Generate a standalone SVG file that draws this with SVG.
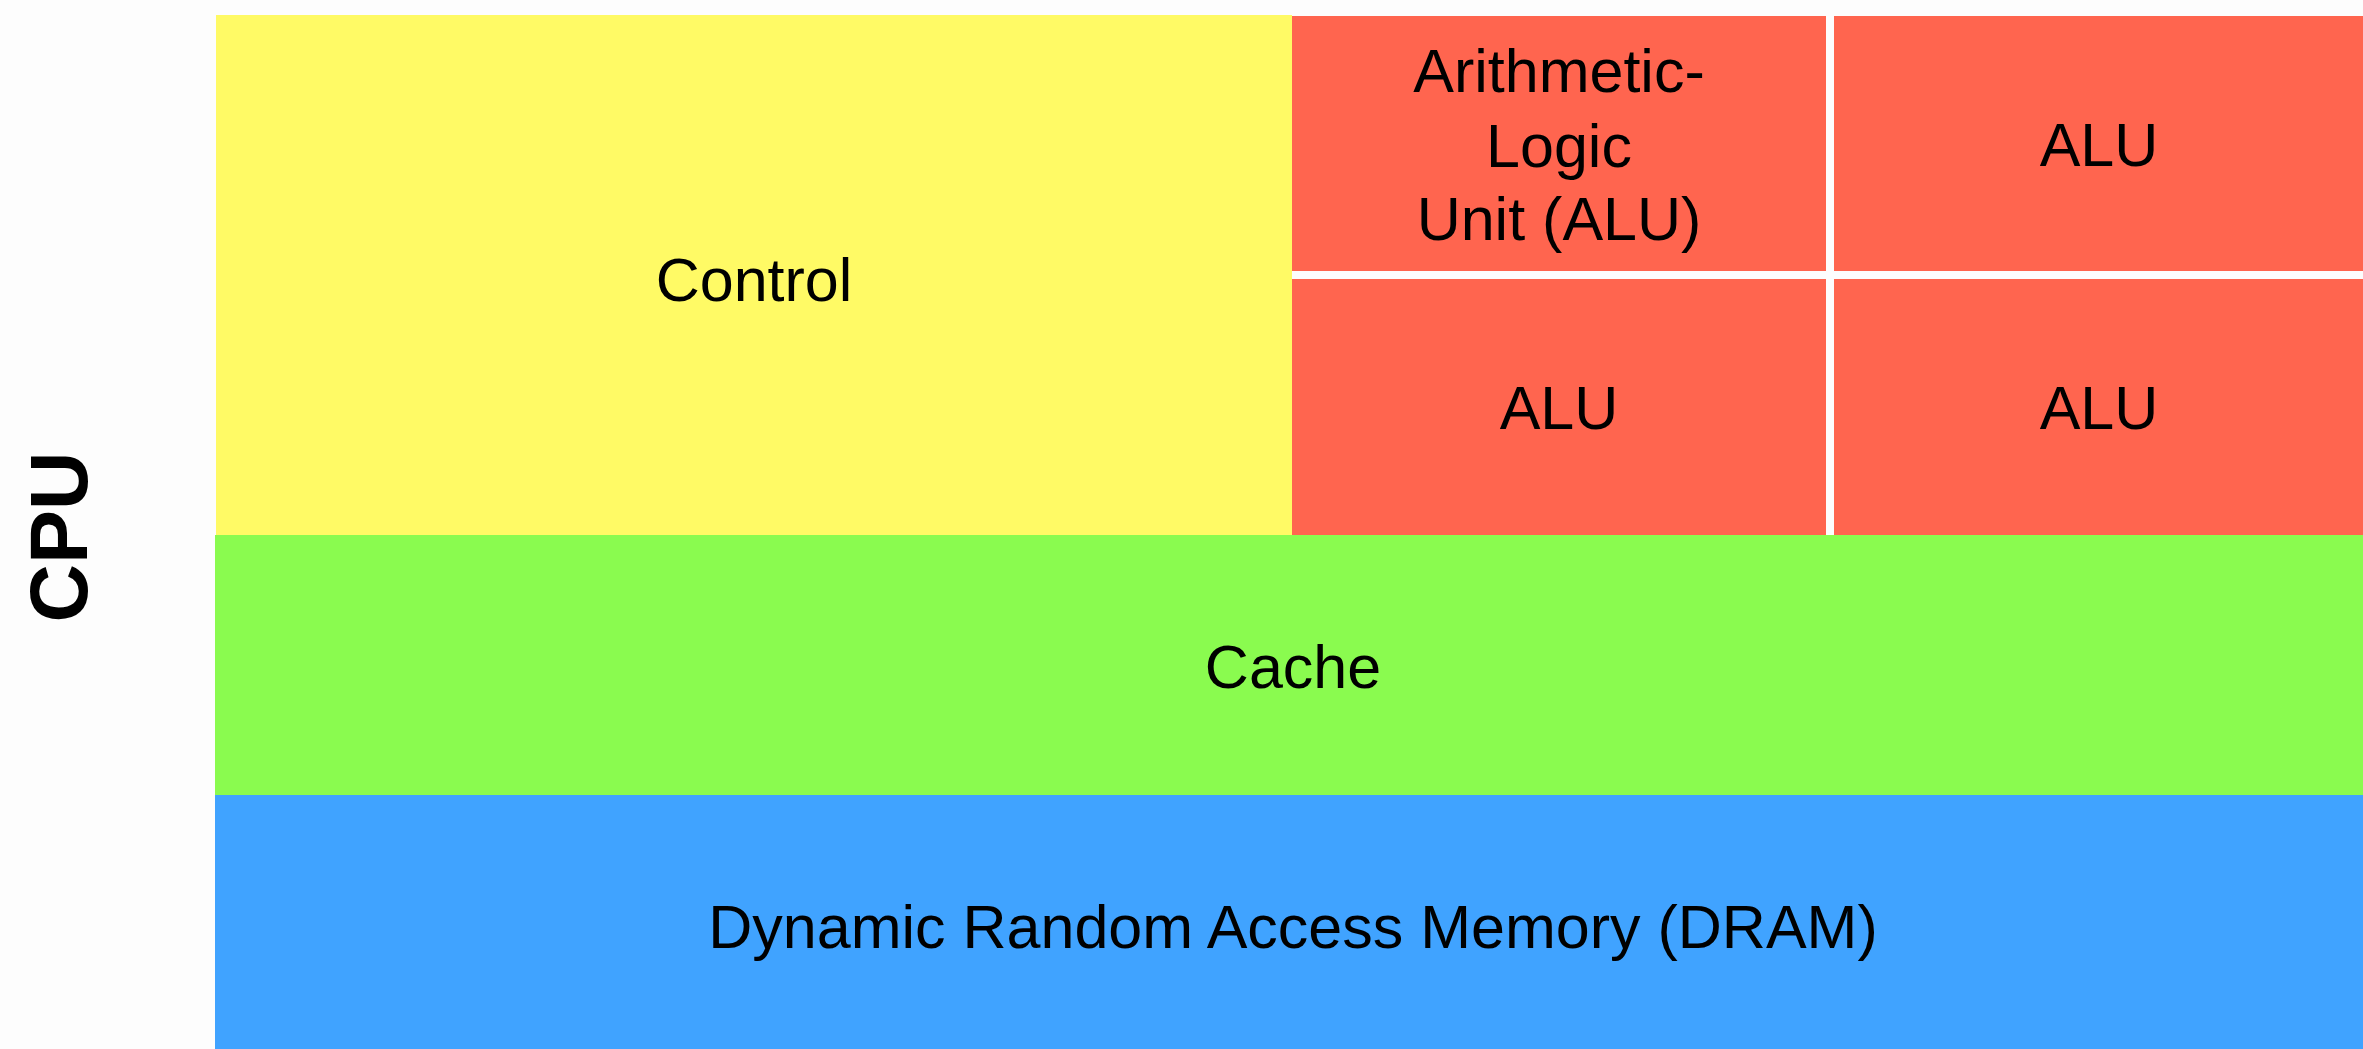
<svg xmlns="http://www.w3.org/2000/svg" width="2363" height="1049" viewBox="0 0 2363 1049">
<style>
.lbl{font-family:"Liberation Sans",Arial,Helvetica,sans-serif;font-size:61px;fill:#000;text-anchor:middle}
.cpu{font-family:"Liberation Sans",Arial,Helvetica,sans-serif;font-size:81px;font-weight:bold;fill:#000;text-anchor:middle}
.alu{fill:#FF654F}
</style>
<rect x="0" y="0" width="2363" height="1049" fill="#FDFDFD"/>
<g id="cpu-label">
<text class="cpu" transform="translate(87,537) rotate(-90)">CPU</text>
</g>
<g id="control">
<rect x="216" y="15" width="1076" height="520" fill="#FFFA65"/>
<text class="lbl" x="754" y="301">Control</text>
</g>
<g id="alu-main">
<rect class="alu" x="1292" y="16" width="534" height="255"/>
<text class="lbl" x="1559" y="92">Arithmetic-</text>
<text class="lbl" x="1559" y="167">Logic</text>
<text class="lbl" x="1559" y="240">Unit (ALU)</text>
</g>
<g id="alu-2">
<rect class="alu" x="1834" y="16" width="529" height="255"/>
<text class="lbl" x="2099" y="166">ALU</text>
</g>
<g id="alu-3">
<rect class="alu" x="1292" y="279" width="534" height="256"/>
<text class="lbl" x="1559" y="429">ALU</text>
</g>
<g id="alu-4">
<rect class="alu" x="1834" y="279" width="529" height="256"/>
<text class="lbl" x="2099" y="429">ALU</text>
</g>
<g id="cache">
<rect x="215" y="535" width="2148" height="260" fill="#8AFB4F"/>
<text class="lbl" x="1293" y="688">Cache</text>
</g>
<g id="dram">
<rect x="215" y="795" width="2148" height="254" fill="#40A3FF"/>
<text class="lbl" x="1293" y="948">Dynamic Random Access Memory (DRAM)</text>
</g>
<g id="connectors"></g>
</svg>
